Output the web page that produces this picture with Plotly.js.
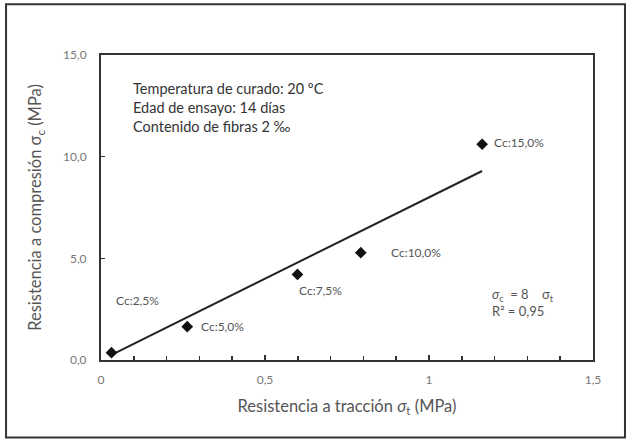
<!DOCTYPE html>
<html>
<head>
<meta charset="utf-8">
<script src="https://cdn.plot.ly/plotly-3.0.1.min.js"></script>
<style>
  html, body { margin: 0; padding: 0; background: #fff; }
  #chart { width: 630px; height: 443px; }
</style>
</head>
<body>
<div id="chart"></div>
<script>
// Tensile vs. compressive strength, cured at 20 ºC, tested at 14 days
const tension = [0.032, 0.263, 0.599, 0.792, 1.162];      // σt (MPa)
const compression = [0.36, 1.64, 4.21, 5.28, 10.61];      // σc (MPa)
const cementLabels = ['Cc:2,5%', 'Cc:5,0%', 'Cc:7,5%', 'Cc:10,0%', 'Cc:15,0%'];
const slope = 8;       // σc = 8 σt
const r2 = '0,95';

const xFit = [Math.min(...tension), Math.max(...tension)];
const yFit = xFit.map(v => slope * v);

const font = 'Lato, "Open Sans", "DejaVu Sans", sans-serif';

// label offsets relative to each point (pixels)
const labelShift = [
  { dx: 2, dy: 52, anchor: 'left' },
  { dx: 12, dy: 0, anchor: 'left' },
  { dx: 0, dy: -16, anchor: 'left' },
  { dx: 28, dy: 0, anchor: 'left' },
  { dx: 10, dy: 2, anchor: 'left' }
];

const pointLabels = tension.map((x, i) => ({
  x: x, y: compression[i], xref: 'x', yref: 'y',
  text: cementLabels[i], showarrow: false,
  xshift: labelShift[i].dx, yshift: labelShift[i].dy,
  xanchor: labelShift[i].anchor, yanchor: 'middle',
  font: { family: font, size: 12, color: '#555' }
}));

const data = [
  {
    x: xFit, y: yFit, mode: 'lines', type: 'scatter',
    line: { color: '#222', width: 2 }, hoverinfo: 'skip'
  },
  {
    x: tension, y: compression, mode: 'markers', type: 'scatter',
    marker: { symbol: 'diamond', size: 9, color: '#111' }
  }
];

const layout = {
  width: 630, height: 443,
  margin: { l: 101, r: 37, t: 55, b: 83 },
  paper_bgcolor: '#fff', plot_bgcolor: '#fff',
  separators: ',.',
  showlegend: false,
  font: { family: font, color: '#666' },
  xaxis: {
    range: [0, 1.5], dtick: 0.5, tick0: 0,
    showgrid: false, zeroline: false,
    showline: true, mirror: true, linecolor: '#333', linewidth: 2,
    ticks: 'inside', ticklen: 5, tickcolor: '#333', tickwidth: 1.5,
    minor: { dtick: 0.1, ticks: 'inside', ticklen: 4, tickcolor: '#333', tickwidth: 1.5 },
    tickfont: { family: font, size: 12, color: '#777' },
    ticklabelstandoff: 8,
    title: { text: 'Resistencia a tracción <i>σ</i><sub>t</sub> (MPa)', font: { family: font, size: 16.5, color: '#555' }, standoff: 14 }
  },
  yaxis: {
    range: [0, 15], dtick: 5, tick0: 0, tickformat: '.1f',
    showgrid: false, zeroline: false,
    showline: true, mirror: true, linecolor: '#333', linewidth: 2,
    ticks: 'inside', ticklen: 4, tickcolor: '#333', tickwidth: 1.5,
    tickfont: { family: font, size: 12, color: '#777' },
    ticklabelstandoff: 10,
    title: { text: 'Resistencia a compresión σ<sub>c</sub> (MPa)', font: { family: font, size: 16.5, color: '#555' }, standoff: 17 }
  },
  annotations: [
    {
      xref: 'paper', yref: 'paper', x: 0.06, y: 0.925, xanchor: 'left', yanchor: 'top',
      align: 'left', showarrow: false,
      text: 'Temperatura de curado: 20 ºC<br>Edad de ensayo: 14 días<br>Contenido de fibras 2 ‰',
      font: { family: font, size: 14.5, color: '#333' }
    },
    {
      xref: 'paper', yref: 'paper', x: 0.79, y: 0.25, xanchor: 'left', yanchor: 'top',
      align: 'left', showarrow: false,
      text: '<i>σ</i><sub>c</sub>  = ' + slope + '    σ<sub>t</sub><br>R² = ' + r2,
      font: { family: font, size: 13, color: '#555' }
    },
    ...pointLabels
  ],
  shapes: [
    {
      type: 'rect', xref: 'paper', yref: 'paper',
      x0: -0.193, x1: 1.065, y0: -0.254, y1: 1.166,
      line: { color: '#333', width: 2 }, fillcolor: 'rgba(0,0,0,0)', layer: 'below'
    }
  ]
};

Plotly.newPlot('chart', data, layout, { displayModeBar: false, staticPlot: true });
</script>
</body>
</html>
